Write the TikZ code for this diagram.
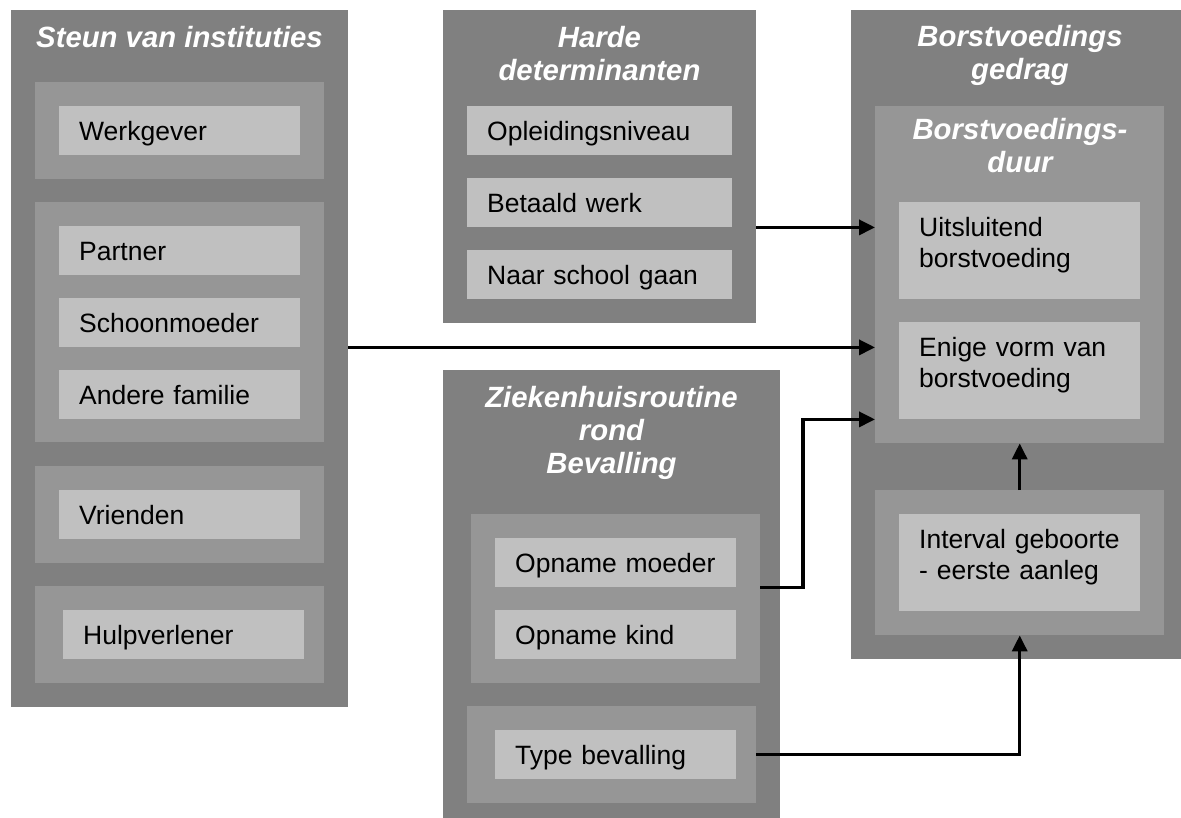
\documentclass[tikz,border=0pt]{standalone}
\usepackage{fontspec}
\setmainfont{Liberation Sans}
\usetikzlibrary{arrows.meta,calc}
\definecolor{gOuter}{RGB}{128,128,128}
\definecolor{gGroup}{RGB}{150,150,150}
\definecolor{gItem}{RGB}{192,192,192}
\newcommand\bodyfont{\fontsize{26.5}{30.6}\selectfont}
\newcommand\titlefont{\fontsize{29.3}{33}\selectfont\bfseries\itshape}
\newcommand\lastpad{\rule[-17pt]{0pt}{0pt}}
\begin{document}
\begin{tikzpicture}[x=1pt,y=-1pt,
 outer/.style={fill=gOuter, anchor=north west, inner sep=0pt},
 grp/.style={fill=gGroup, anchor=north west, inner sep=0pt},
 item/.style={fill=gItem, anchor=north west, inner xsep=20pt, inner ysep=0pt, minimum width=241pt, text width=201pt, minimum height=49pt, align=left, font=\bodyfont},
 one/.style={text height=19pt, text depth=0pt},
 two/.style={minimum height=97pt},
 wide/.style={minimum width=265pt, text width=225pt},
 ttl/.style={text=white, font=\titlefont, align=center, anchor=north, inner sep=0pt},
 arr/.style={line width=3.5pt, -{Triangle[length=16pt,width=15pt]}},
]
\useasboundingbox[fill=white] (0,0) rectangle (1181,818);

% Steun van instituties
\node[outer, minimum width=337pt, minimum height=697pt] (steun) at (11,10) {};
\node[ttl] (steunT) at (179.5,26) {Steun van instituties};
\node[grp, minimum width=289pt, minimum height=97pt] (gwerk) at (35,82) {};
\node[grp, minimum width=289pt, minimum height=240pt] (gfam) at (35,202) {};
\node[grp, minimum width=289pt, minimum height=97pt] (gvri) at (35,466) {};
\node[grp, minimum width=289pt, minimum height=97pt] (ghulp) at (35,586) {};
\node[item, one] (werk) at (59,106) {Werkgever};
\node[item, one] (partner) at (59,226) {Partner};
\node[item, one] (schoon) at (59,298) {Schoonmoeder};
\node[item, one] (andere) at (59,370) {Andere familie};
\node[item, one] (vrienden) at (59,490) {Vrienden};
\node[item, one] (hulp) at (63,610) {Hulpverlener};

% Harde determinanten
\node[outer, minimum width=313pt, minimum height=313pt] (harde) at (443,10) {};
\node[ttl] (hardeT) at (599.5,26) {Harde\\determinanten};
\node[item, one, wide] (opleiding) at (467,106) {Opleidingsniveau};
\node[item, one, wide] (betaald) at (467,178) {Betaald werk};
\node[item, one, wide] (school) at (467,250) {Naar school gaan};

% Ziekenhuisroutine
\node[outer, minimum width=337pt, minimum height=448pt] (zieken) at (443,370) {};
\node[ttl] (ziekenT) at (611.5,386) {Ziekenhuisroutine\\rond\\Bevalling};
\node[grp, minimum width=289pt, minimum height=169pt] (zg1) at (471,514) {};
\node[grp, minimum width=289pt, minimum height=97pt] (zg2) at (467,706) {};
\node[item, one] (moeder) at (495,538) {Opname moeder};
\node[item, one] (kind) at (495,610) {Opname kind};
\node[item, one] (typeb) at (495,730) {Type bevalling};

% Borstvoedingsgedrag
\node[outer, minimum width=330pt, minimum height=649pt] (gedrag) at (851,10) {};
\node[ttl] (gedragT) at (1020,25) {Borstvoedings\\gedrag};
\node[grp, minimum width=289pt, minimum height=337pt] (duur) at (875,106) {};
\node[ttl] (duurT) at (1020,118) {Borstvoedings-\\duur};
\node[item, two] (uits) at (899,202) {Uitsluitend\\borstvoeding\lastpad};
\node[item, two] (enige) at (899,322) {Enige vorm van\\borstvoeding\lastpad};
\node[grp, minimum width=289pt, minimum height=145pt] (intgrp) at (875,490) {};
\node[item, two] (interval) at (899,514) {Interval geboorte\\- eerste aanleg\lastpad};

% connectors
\coordinate (k1) at (803,0);
\draw[arr] (harde.east |- betaald.south) -- (duur.west |- betaald.south);
\draw[arr] (steun.east |- schoon.south) -- (duur.west |- schoon.south);
\draw[arr] (zg1.east |- moeder.south) -| (k1 |- enige.south) -- (duur.west |- enige.south);
\draw[arr] (zg2.east |- typeb) -| (intgrp.south);
\draw[arr] (intgrp.north) -- (duur.south);
\end{tikzpicture}
\end{document}
